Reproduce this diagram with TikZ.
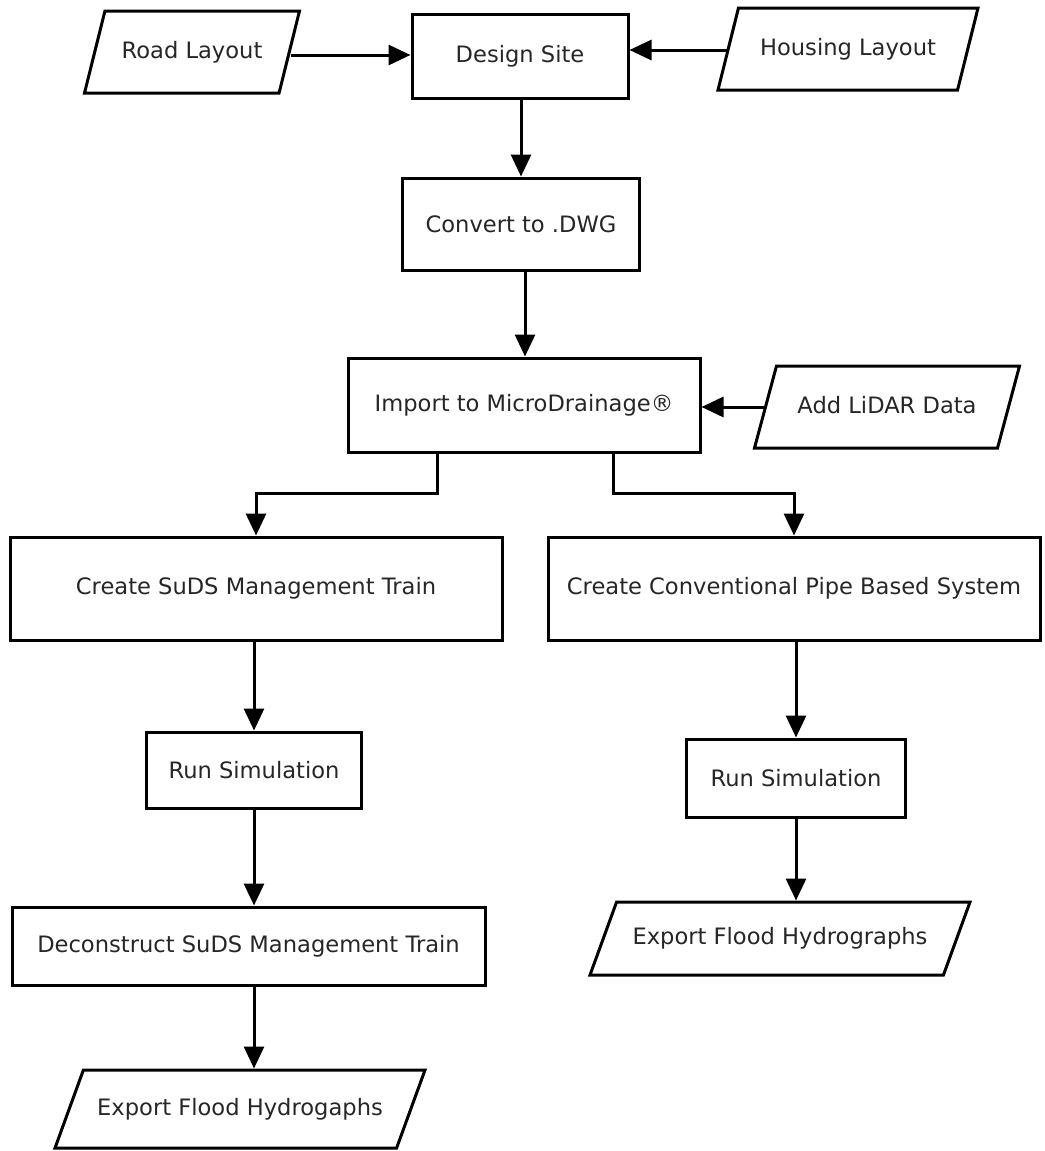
\documentclass[tikz,border=0pt]{standalone}
\usepackage{fontspec}
\setmainfont{DejaVu Sans}
\usetikzlibrary{arrows.meta,shapes.geometric}
\begin{document}
\begin{tikzpicture}[x=1pt,y=-1pt,
		every node/.style={font=\fontsize{22.6}{26}\selectfont, text=black!85, line width=3pt, inner sep=0pt},
		proc/.style={draw, rectangle},
		data/.style={draw, trapezium, trapezium left angle=#1, trapezium right angle=180-#1, trapezium stretches body=true, text height=17pt, text depth=5pt},
		arr/.style={line width=3pt, -{Triangle[length=22pt,width=20pt]}}]
		\useasboundingbox (0,0) rectangle (1044,1151);
		\node[data=76, inner ysep=30pt, minimum width=215] (road) at (192,52) {Road Layout};
		\node[proc, minimum width=216, minimum height=84] (design) at (520,56) {Design Site};
		\node[data=76, inner ysep=30pt, minimum width=260] (housing) at (848,49) {Housing Layout};
		\node[proc, minimum width=237, minimum height=92] (convert) at (521,224) {Convert to .DWG};
		\node[proc, minimum width=352, minimum height=94] (import) at (524,405) {Import to MicroDrainage®};
		\node[data=75, inner ysep=30pt, minimum width=265] (lidar) at (887,407) {Add LiDAR Data};
		\node[proc, minimum width=492, minimum height=103] (suds) at (256,588.5) {Create SuDS Management Train};
		\node[proc, minimum width=492, minimum height=103] (pipe) at (794,588.5) {Create Conventional Pipe Based System};
		\node[proc, minimum width=215, minimum height=76] (runL) at (254,770) {Run Simulation};
		\node[proc, minimum width=219, minimum height=78] (runR) at (796,778) {Run Simulation};
		\node[proc, minimum width=473, minimum height=78] (decon) at (248.5,946) {Deconstruct SuDS Management Train};
		\node[data=70, inner ysep=28pt, minimum width=370] (expL) at (240,1109) {Export Flood Hydrogaphs};
		\node[data=70, inner ysep=25.5pt, minimum width=380] (expR) at (780,938.5) {Export Flood Hydrographs};
		\draw[arr] (road.east |- 0,55) -- (design.west |- 0,55);
		\draw[arr] (housing.west |- 0,50) -- (design.east |- 0,50);
		\draw[arr] (design.south -| 521,0) -- (convert.north -| 521,0);
		\draw[arr] (convert.south -| 525,0) -- (import.north -| 525,0);
		\draw[arr] (lidar.west |- 0,407) -- (import.east |- 0,407);
		\draw[arr] (import.south -| 437,0) -- ++(0,40) -| (suds);
		\draw[arr] (import.south -| 613,0) -- ++(0,40) -| (pipe);
		\draw[arr] (suds.south -| runL) -- (runL);
		\draw[arr] (pipe.south -| runR) -- (runR);
		\draw[arr] (runL) -- (runL |- decon.north);
		\draw[arr] (runR) -- (runR |- expR.north);
		\draw[arr] (decon.south -| runL) -- (runL |- expL.north);
	\end{tikzpicture}
\end{document}
